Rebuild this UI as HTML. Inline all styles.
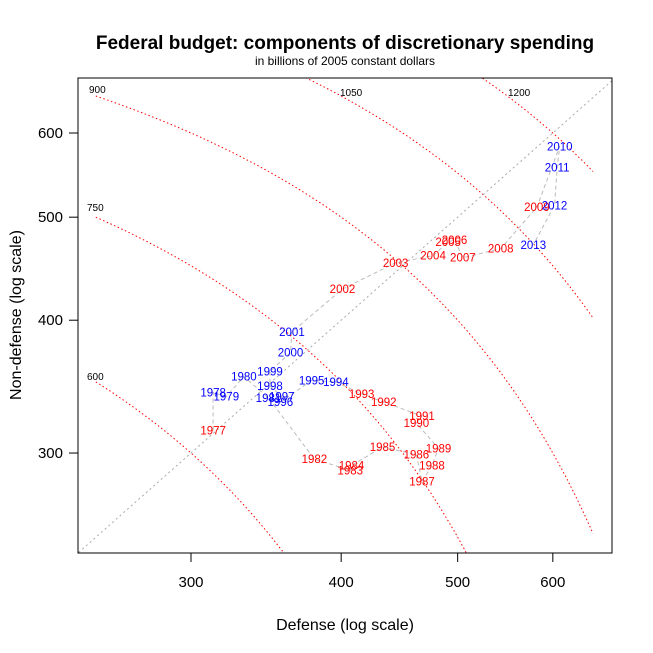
<!DOCTYPE html>
<html><head><meta charset="utf-8"><style>
html,body{margin:0;padding:0;background:#fff;overflow:hidden;width:653px;height:653px;}
svg{display:block;}
svg text{font-family:"Liberation Sans",Arial,sans-serif;}
</style></head><body>
<svg id="chart" width="653" height="653" viewBox="0 0 653 653" xmlns="http://www.w3.org/2000/svg">
<rect width="653" height="653" fill="#fff"/>
<text x="345" y="49" text-anchor="middle" font-size="19" font-weight="bold">Federal budget: components of discretionary spending</text>
<text x="345" y="65" text-anchor="middle" font-size="12">in billions of 2005 constant dollars</text>
<defs><clipPath id="pc"><rect x="78" y="78" width="534" height="475"/></clipPath></defs>
<g id="iso" clip-path="url(#pc)"></g>
<g id="diag" clip-path="url(#pc)"></g>
<g id="path" clip-path="url(#pc)"></g>
<g id="labels"></g>
<rect x="78" y="78" width="534" height="475" fill="none" stroke="#000" stroke-width="1"/>
<g id="axes"></g>
<text x="345" y="630" text-anchor="middle" font-size="16">Defense (log scale)</text>
<text transform="translate(21,315) rotate(-90)" text-anchor="middle" font-size="16">Non-defense (log scale)</text>
</svg>
<script>
const years=[1977,1978,1979,1980,1981,1982,1983,1984,1985,1986,1987,1988,1989,1990,1991,1992,1993,1994,1995,1996,1997,1998,1999,2000,2001,2002,2003,2004,2005,2006,2007,2008,2009,2010,2011,2012,2013];
const defense=[313,313,321,332,348,380,407,408,433,462,467,476,482,462,467,434,416,396,378,356,357,349,349,363,364,401,444,477,491,497,505,543,582,608,605,602,578];
const nondefense=[315,342,339,354,338,296,289,292,304,299,282,292,303,320,325,335,341,350,351,335,339,347,358,373,390,428,453,460,474,476,458,467,511,583,557,513,471];
const party=["R","D","D","D","D","R","R","R","R","R","R","R","R","R","R","R","R","D","D","D","D","D","D","D","D","R","R","R","R","R","R","R","R","D","D","D","D"];
const isoTotals=[600,750,900,1050,1200];
const isoLabelPos=[[87,380],[87,211],[89,93],[340,96],[508,96]];
const ticks=[300,400,500,600];

const NS="http://www.w3.org/2000/svg";
function sx(v){return 191+522*Math.log(v/300);}
function sy(v){return 133-461.7*Math.log(v/600);}
function mk(tag,attrs,parent){const e=document.createElementNS(NS,tag);for(const k in attrs)e.setAttribute(k,attrs[k]);parent.appendChild(e);return e;}

const iso=document.getElementById('iso');
isoTotals.forEach((t,i)=>{
  let pts=[];
  for(let x=250;x<=649;x+=2){const y=t-x;if(y>1)pts.push(sx(x).toFixed(1)+','+sy(y).toFixed(1));}
  const pl=mk('polyline',{points:pts.join(' '),fill:'none',stroke:'#f00','stroke-width':1,'stroke-dasharray':'1.5,2.5'},iso);
  
  
  const lb=mk('text',{x:isoLabelPos[i][0],y:isoLabelPos[i][1],'font-size':10},document.getElementById('labels'));
  lb.textContent=t;
  
  
});
const dg=mk('line',{x1:sx(230),y1:sy(230),x2:sx(700),y2:sy(700),stroke:'#aaa','stroke-width':1,'stroke-dasharray':'2,3'},document.getElementById('diag'));



const pp=years.map((y,i)=>sx(defense[i]).toFixed(1)+','+sy(nondefense[i]).toFixed(1)).join(' ');
const tr=mk('polyline',{points:pp,fill:'none',stroke:'#bbb','stroke-width':1,'stroke-dasharray':'4,3'},document.getElementById('path'));



years.forEach((y,i)=>{
  const t=mk('text',{x:sx(defense[i]),y:sy(nondefense[i])+4,'text-anchor':'middle','font-size':11.5,fill:party[i]==='D'?'#00f':'#f00'},document.getElementById('labels'));
  t.textContent=y;
  
  
});

const ax=document.getElementById('axes');
ticks.forEach(v=>{
  const x=sx(v);
  const a=mk('line',{x1:x,y1:553,x2:x,y2:562,stroke:'#000'},ax);
  
  
  const t=mk('text',{x:x,y:587,'text-anchor':'middle','font-size':15},ax);
  t.textContent=v;
  
  
  const y=sy(v);
  const b=mk('line',{x1:69,y1:y,x2:78,y2:y,stroke:'#000'},ax);
  
  
  const u=mk('text',{x:63,y:y+5,'text-anchor':'end','font-size':15},ax);
  u.textContent=v;
  
  
});
</script>
</body></html>
